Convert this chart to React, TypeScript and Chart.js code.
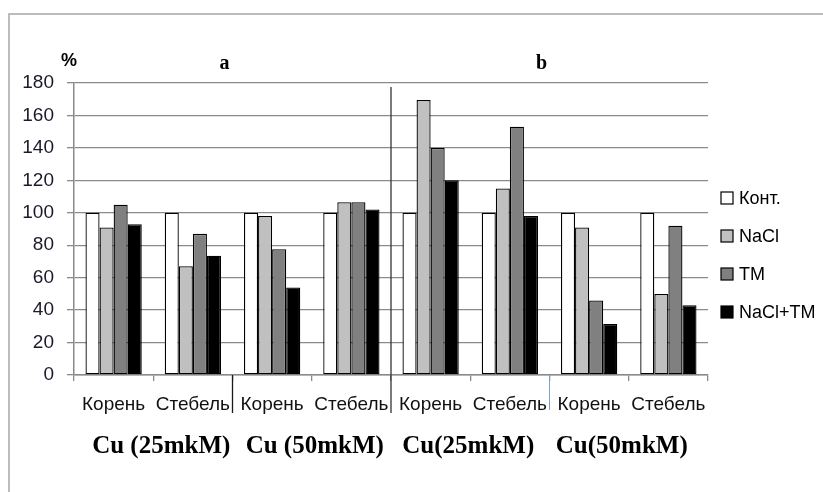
import React, { useEffect, useRef } from "react";
import { Chart, registerables } from "chart.js";

Chart.register(...registerables);

const categories = ["Корень", "Стебель", "Корень", "Стебель", "Корень", "Стебель", "Корень", "Стебель"];
const groupLabels = ["Cu (25mkM)", "Cu (50mkM)", "Cu(25mkM)", "Cu(50mkM)"];
const panelLabels = ["a", "b"];
const seriesNames = ["Конт.", "NaCl", "TM", "NaCl+TM"];
const kontValues = [100, 100, 100, 100, 100, 100, 100, 100];
const naclValues = [91, 67, 98, 106.5, 169.5, 115, 91, 50];
const tmValues = [105, 87, 77.5, 106.5, 140, 153, 46, 92];
const naclTmValues = [93, 73.5, 54, 102, 120, 98, 31.5, 43];
const yMin = 0;
const yMax = 180;
const yStep = 20;
const seriesColors = ["#ffffff", "#c0c0c0", "#808080", "#000000"];

const SANS = "'Liberation Sans', Arial, sans-serif";
const SERIF = "'Liberation Serif', 'Times New Roman', serif";

const decorPlugin = {
  id: "decor",
  afterDraw(chart: any) {
    const ctx = chart.ctx;
    const xs = chart.scales.x;
    const ys = chart.scales.y;
    const px = (i: number) => xs.getPixelForValue(i);
    const bound = (i: number) => (px(i - 1) + px(i)) / 2;
    ctx.save();

    // outer frame (left and top)
    ctx.strokeStyle = "#a6a6a6";
    ctx.lineWidth = 1.5;
    ctx.beginPath();
    ctx.moveTo(9, chart.height);
    ctx.lineTo(9, 14);
    ctx.lineTo(chart.width, 14);
    ctx.stroke();

    // divider lines
    ctx.lineWidth = 1.3;
    ctx.strokeStyle = "#1a1a1a";
    ctx.beginPath();
    ctx.moveTo(bound(2), ys.bottom);
    ctx.lineTo(bound(2), ys.bottom + 38);
    ctx.stroke();
    ctx.strokeStyle = "#333333";
    ctx.beginPath();
    ctx.moveTo(bound(4), ys.top + 4);
    ctx.lineTo(bound(4), ys.bottom + 38);
    ctx.stroke();
    ctx.strokeStyle = "#7f9fc8";
    ctx.lineWidth = 1;
    ctx.beginPath();
    ctx.moveTo(bound(6), ys.bottom);
    ctx.lineTo(bound(6), ys.bottom + 35);
    ctx.stroke();

    // group labels
    ctx.fillStyle = "#000";
    ctx.font = `bold 25px ${SERIF}`;
    ctx.textAlign = "center";
    ctx.textBaseline = "middle";
    groupLabels.forEach((g, k) => {
      const cx = (px(2 * k) + px(2 * k + 1)) / 2;
      ctx.fillText(g, cx + 8 - 5 * k, 447);
    });

    // panel labels
    ctx.font = `bold 20px ${SERIF}`;
    panelLabels.forEach((p, k) => {
      const cx = (px(4 * k) + px(4 * k + 3)) / 2;
      ctx.fillText(p, cx - 8, 64);
    });

    // percent sign
    ctx.font = `bold 18px ${SANS}`;
    ctx.textAlign = "left";
    ctx.fillText("%", 61, 61);

    // legend
    ctx.font = `18px ${SANS}`;
    seriesNames.forEach((name, i) => {
      const cy = 198 + i * 38;
      ctx.fillStyle = seriesColors[i];
      ctx.fillRect(721, cy - 6, 12, 12);
      ctx.strokeStyle = "#000";
      ctx.lineWidth = 1.2;
      ctx.strokeRect(721, cy - 6, 12, 12);
      ctx.fillStyle = "#000";
      ctx.textAlign = "left";
      ctx.fillText(name, 739, cy + 1);
    });
    ctx.restore();
  },
};

export default function App() {
  const ref = useRef<HTMLCanvasElement>(null);
  useEffect(() => {
    if (!ref.current) return;
    const seriesValues = [kontValues, naclValues, tmValues, naclTmValues];
    const chart = new Chart(ref.current, {
      type: "bar",
      data: {
        labels: categories,
        datasets: seriesNames.map((name, i) => ({
          label: name,
          data: seriesValues[i],
          backgroundColor: seriesColors[i],
          borderColor: "#000",
          borderWidth: 1.3,
          borderSkipped: false,
          categoryPercentage: 0.71,
          barPercentage: 1,
        })),
      },
      options: {
        animation: false,
        responsive: true,
        maintainAspectRatio: false,
        layout: { padding: { left: 0, right: 115, top: 83, bottom: 0 } },
        plugins: {
          legend: { display: false },
          tooltip: { enabled: false },
          title: { display: false },
        },
        scales: {
          x: {
            afterFit: (s: any) => {
              s.height = 117;
            },
            grid: {
              display: true,
              offset: true,
              drawOnChartArea: false,
              tickLength: 6,
              color: "#8a8a8a",
              lineWidth: 1.3,
            },
            border: { color: "#8a8a8a", width: 1.5 },
            ticks: {
              font: { family: SANS, size: 19 },
              color: "#111",
              padding: 12,
              maxRotation: 0,
              minRotation: 0,
              autoSkip: false,
            },
          },
          y: {
            min: yMin,
            max: yMax,
            afterFit: (s: any) => {
              s.width = 74;
            },
            grid: { color: "#8a8a8a", lineWidth: 1.3, tickLength: 7 },
            border: { color: "#8a8a8a", width: 1.5 },
            ticks: {
              stepSize: yStep,
              font: { family: SANS, size: 19 },
              color: "#1a1a2a",
              padding: 13,
            },
          },
        },
      },
      plugins: [decorPlugin],
    });
    return () => chart.destroy();
  }, []);
  return (
    <div style={{ position: "fixed", left: 0, top: 0, width: 823, height: 492, background: "#fff" }}>
      <canvas ref={ref} />
    </div>
  );
}
